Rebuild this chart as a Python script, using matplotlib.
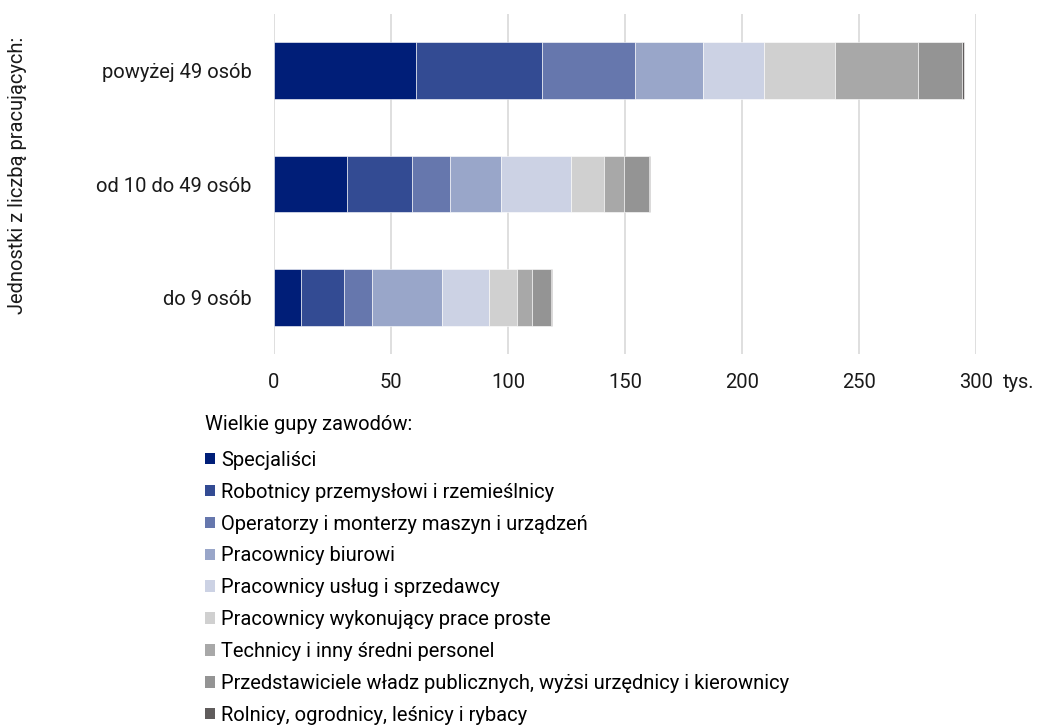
import numpy as np
import matplotlib.pyplot as plt
from matplotlib.patches import Patch

plt.rcParams['font.family'] = ['Roboto', 'DejaVu Sans']

# Kategorie (od dołu do góry)
categories = ['do 9 osób', 'od 10 do 49 osób', 'powyżej 49 osób']

groups = [
    'Specjaliści',
    'Robotnicy przemysłowi i rzemieślnicy',
    'Operatorzy i monterzy maszyn i urządzeń',
    'Pracownicy biurowi',
    'Pracownicy usług i sprzedawcy',
    'Pracownicy wykonujący prace proste',
    'Technicy i inny średni personel',
    'Przedstawiciele władz publicznych, wyżsi urzędnicy i kierownicy',
    'Rolnicy, ogrodnicy, leśnicy i rybacy',
]

# wartości w tys. dla: do 9, od 10 do 49, powyżej 49
specjalisci = [11.5, 31.1, 60.8]
robotnicy = [18.4, 27.8, 53.8]
operatorzy = [12.0, 16.2, 39.5]
biurowi = [29.7, 22.1, 29.2]
uslugi = [20.3, 29.6, 26.2]
proste = [11.8, 14.2, 30.3]
technicy = [6.6, 8.6, 35.2]
kierownicy = [8.2, 10.8, 19.0]
rolnicy = [0.2, 0.2, 0.8]

series = [specjalisci, robotnicy, operatorzy, biurowi, uslugi,
          proste, technicy, kierownicy, rolnicy]

colors = ['#001E78', '#334B93', '#6677AD', '#99A6C9', '#CCD2E4',
          '#D0D0D0', '#A8A8A8', '#949494', '#605C5C']

FS = 14.5

fig = plt.figure(figsize=(10.38, 7.25), dpi=100)
ax = fig.add_axes([274/1038, 1 - 354/725, (976 - 274)/1038, 340/725])

y = np.arange(len(categories))
left = np.zeros(len(categories))
for vals, col in zip(series, colors):
    ax.barh(y, vals, left=left, height=0.5, color=col,
            edgecolor='white', linewidth=0.4, zorder=3)
    left += np.array(vals)

ax.set_xlim(0, 300)
ax.set_ylim(-0.5, 2.5)
ax.set_xticks(np.arange(0, 301, 50))
ax.set_yticks(y)
ax.set_yticklabels(categories, fontsize=FS)
ax.tick_params(axis='both', length=0, labelsize=FS, colors='#1a1a1a')
ax.tick_params(axis='x', pad=14)
ax.tick_params(axis='y', pad=16)
ax.grid(axis='x', color='#D9D9D9', linewidth=1.2, zorder=0)
for s in ax.spines.values():
    s.set_visible(False)

ax.text(1.038, -0.085, 'tys.', transform=ax.transAxes, fontsize=FS,
        color='#1a1a1a', va='center', ha='left')

fig.text(18/1038, 1 - 175/725, 'Jednostki z liczbą pracujących:', rotation=90,
         fontsize=FS, va='center', ha='center', color='#1a1a1a')

handles = [Patch(facecolor=c, edgecolor='none') for c in colors]
leg = fig.legend(handles, groups, loc='upper left',
                 bbox_to_anchor=(195/1038, 1 - 405/725),
                 title='Wielkie gupy zawodów:', title_fontsize=FS,
                 fontsize=FS, frameon=False, alignment='left',
                 handlelength=0.5, handleheight=0.5, handletextpad=0.3,
                 labelspacing=0.64, borderpad=0)
leg._legend_box.sep = 12

fig.savefig('out.png', dpi=100)
